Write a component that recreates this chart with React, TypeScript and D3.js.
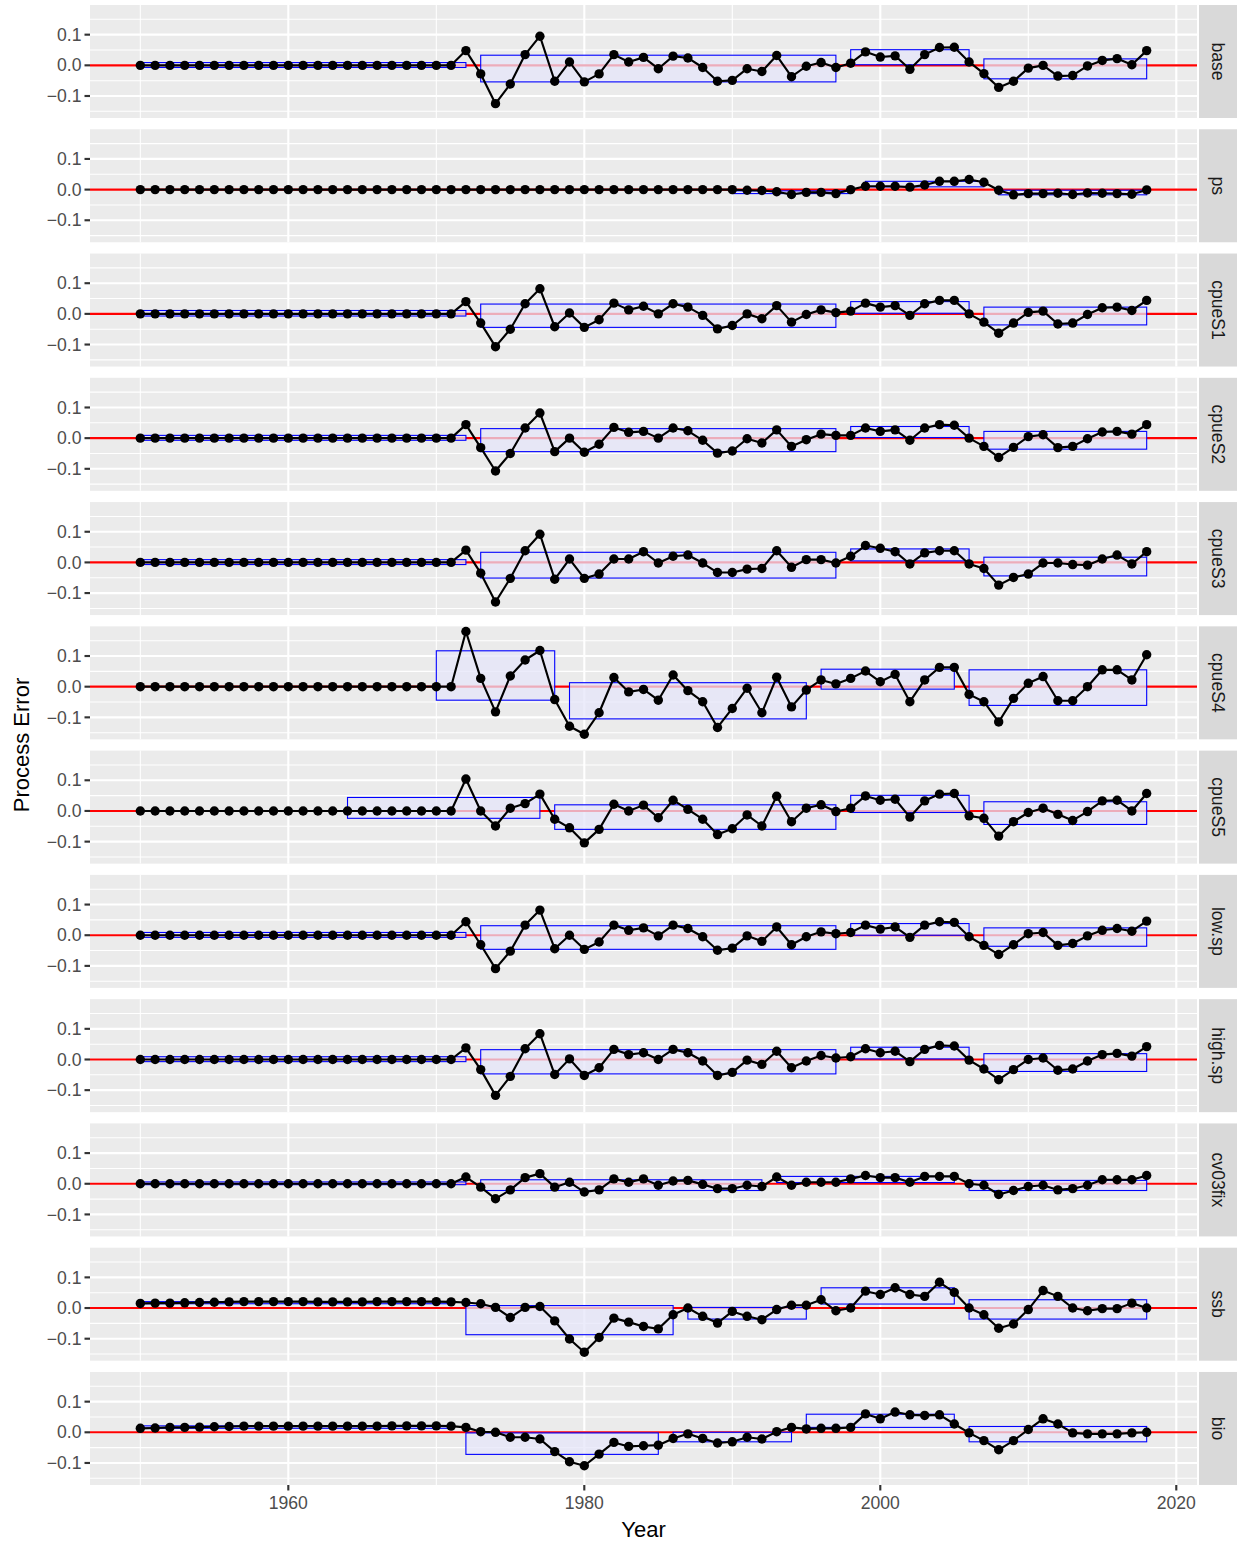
import * as d3 from 'd3';

// x categories
const years = [
  1950, 1951, 1952, 1953, 1954, 1955, 1956, 1957, 1958, 1959,
  1960, 1961, 1962, 1963, 1964, 1965, 1966, 1967, 1968, 1969,
  1970, 1971, 1972, 1973, 1974, 1975, 1976, 1977, 1978, 1979,
  1980, 1981, 1982, 1983, 1984, 1985, 1986, 1987, 1988, 1989,
  1990, 1991, 1992, 1993, 1994, 1995, 1996, 1997, 1998, 1999,
  2000, 2001, 2002, 2003, 2004, 2005, 2006, 2007, 2008, 2009,
  2010, 2011, 2012, 2013, 2014, 2015, 2016, 2017, 2018,
];

const xTicks = [1960, 1980, 2000, 2020];
const xMinor = [1950, 1970, 1990, 2010];
const yTicks = [-0.1, 0, 0.1];
const yMinor = [-0.15, -0.05, 0.05, 0.15];

// process error per run, 1950..2018
const base = [
  0, 0, 0, 0, 0, 0, 0, 0, 0, 0,
  0, 0, 0, 0, 0, 0, 0, 0, 0, 0,
  0, 0, 0.048, -0.028, -0.125, -0.061, 0.035, 0.095, -0.052, 0.011,
  -0.054, -0.028, 0.035, 0.011, 0.026, -0.011, 0.030, 0.024, -0.007, -0.052,
  -0.049, -0.011, -0.020, 0.032, -0.037, -0.003, 0.009, -0.007, 0.007, 0.044,
  0.027, 0.031, -0.013, 0.035, 0.058, 0.059, 0.011, -0.027, -0.072, -0.052,
  -0.009, 0.000, -0.035, -0.033, -0.002, 0.016, 0.022, 0.002, 0.048,
];
const ps = [
  0, 0, 0, 0, 0, 0, 0, 0, 0, 0,
  0, 0, 0, 0, 0, 0, 0, 0, 0, 0,
  0, 0, 0, 0, 0, 0, 0, 0, 0, 0,
  0, 0, 0, 0, 0, 0, 0, 0, 0, 0,
  0, -0.002, -0.003, -0.007, -0.016, -0.009, -0.009, -0.013, 0.000, 0.011,
  0.011, 0.011, 0.008, 0.015, 0.027, 0.027, 0.033, 0.024, -0.002, -0.017,
  -0.013, -0.013, -0.012, -0.016, -0.011, -0.012, -0.013, -0.015, -0.001,
];
const cpueS1 = [
  0, 0, 0, 0, 0, 0, 0, 0, 0, 0,
  0, 0, 0, 0, 0, 0, 0, 0, 0, 0,
  0, 0, 0.040, -0.030, -0.107, -0.050, 0.033, 0.082, -0.042, 0.003,
  -0.044, -0.019, 0.035, 0.013, 0.025, 0.000, 0.033, 0.022, -0.005, -0.049,
  -0.038, 0.000, -0.016, 0.027, -0.027, -0.002, 0.013, 0.004, 0.009, 0.035,
  0.022, 0.027, -0.005, 0.033, 0.044, 0.044, 0.000, -0.027, -0.063, -0.030,
  0.005, 0.009, -0.033, -0.030, -0.002, 0.020, 0.022, 0.011, 0.044,
];
const cpueS2 = [
  0, 0, 0, 0, 0, 0, 0, 0, 0, 0,
  0, 0, 0, 0, 0, 0, 0, 0, 0, 0,
  0, 0, 0.044, -0.031, -0.107, -0.050, 0.033, 0.082, -0.044, 0.000,
  -0.046, -0.020, 0.035, 0.019, 0.022, 0.000, 0.033, 0.024, -0.007, -0.049,
  -0.042, -0.002, -0.016, 0.027, -0.027, -0.005, 0.013, 0.009, 0.009, 0.033,
  0.022, 0.027, -0.007, 0.033, 0.044, 0.042, 0.000, -0.027, -0.063, -0.030,
  0.005, 0.011, -0.031, -0.027, -0.002, 0.020, 0.022, 0.013, 0.044,
];
const cpueS3 = [
  0, 0, 0, 0, 0, 0, 0, 0, 0, 0,
  0, 0, 0, 0, 0, 0, 0, 0, 0, 0,
  0, 0, 0.040, -0.035, -0.129, -0.052, 0.038, 0.092, -0.055, 0.011,
  -0.052, -0.038, 0.011, 0.011, 0.035, -0.002, 0.020, 0.024, -0.002, -0.033,
  -0.033, -0.022, -0.020, 0.038, -0.016, 0.009, 0.009, -0.002, 0.020, 0.055,
  0.046, 0.035, -0.005, 0.031, 0.038, 0.038, -0.005, -0.020, -0.074, -0.049,
  -0.038, -0.002, -0.002, -0.007, -0.009, 0.011, 0.024, -0.005, 0.035,
];
const cpueS4 = [
  0, 0, 0, 0, 0, 0, 0, 0, 0, 0,
  0, 0, 0, 0, 0, 0, 0, 0, 0, 0,
  0, 0, 0.180, 0.027, -0.082, 0.035, 0.087, 0.118, -0.042, -0.129,
  -0.155, -0.085, 0.030, -0.017, -0.009, -0.044, 0.038, -0.013, -0.049, -0.133,
  -0.071, -0.005, -0.085, 0.031, -0.066, -0.011, 0.022, 0.009, 0.027, 0.051,
  0.016, 0.040, -0.049, 0.022, 0.063, 0.063, -0.025, -0.049, -0.115, -0.038,
  0.011, 0.033, -0.046, -0.046, 0.000, 0.055, 0.055, 0.022, 0.104,
];
const cpueS5 = [
  0, 0, 0, 0, 0, 0, 0, 0, 0, 0,
  0, 0, 0, 0, 0, 0, 0, 0, 0, 0,
  0, 0, 0.104, 0.000, -0.049, 0.009, 0.024, 0.055, -0.027, -0.055,
  -0.104, -0.060, 0.022, 0.000, 0.019, -0.022, 0.035, 0.005, -0.027, -0.077,
  -0.058, -0.013, -0.049, 0.048, -0.035, 0.009, 0.020, -0.002, 0.009, 0.049,
  0.035, 0.038, -0.020, 0.033, 0.055, 0.057, -0.016, -0.024, -0.082, -0.035,
  -0.005, 0.009, -0.011, -0.031, -0.002, 0.033, 0.035, 0.000, 0.057,
];
const lowSp = [
  0, 0, 0, 0, 0, 0, 0, 0, 0, 0,
  0, 0, 0, 0, 0, 0, 0, 0, 0, 0,
  0, 0, 0.044, -0.031, -0.109, -0.052, 0.033, 0.082, -0.044, 0.000,
  -0.046, -0.022, 0.033, 0.016, 0.024, -0.002, 0.033, 0.022, -0.005, -0.049,
  -0.042, -0.002, -0.020, 0.027, -0.031, -0.005, 0.011, 0.005, 0.009, 0.033,
  0.020, 0.027, -0.007, 0.033, 0.044, 0.042, -0.005, -0.033, -0.063, -0.031,
  0.005, 0.009, -0.033, -0.027, -0.002, 0.016, 0.022, 0.013, 0.046,
];
const highSp = [
  0, 0, 0, 0, 0, 0, 0, 0, 0, 0,
  0, 0, 0, 0, 0, 0, 0, 0, 0, 0,
  0, 0, 0.038, -0.033, -0.117, -0.055, 0.035, 0.084, -0.049, 0.002,
  -0.052, -0.027, 0.033, 0.016, 0.022, 0.000, 0.033, 0.022, -0.005, -0.052,
  -0.042, -0.002, -0.016, 0.027, -0.027, -0.005, 0.013, 0.005, 0.009, 0.035,
  0.022, 0.027, -0.007, 0.033, 0.046, 0.044, -0.002, -0.031, -0.066, -0.033,
  0.000, 0.005, -0.035, -0.031, -0.005, 0.016, 0.020, 0.011, 0.042,
];
const cv03fix = [
  0, 0, 0, 0, 0, 0, 0, 0, 0, 0,
  0, 0, 0, 0, 0, 0, 0, 0, 0, 0,
  0, 0, 0.022, -0.011, -0.049, -0.020, 0.020, 0.033, -0.011, 0.005,
  -0.027, -0.020, 0.016, 0.005, 0.016, -0.005, 0.009, 0.011, -0.002, -0.016,
  -0.016, -0.005, -0.009, 0.022, -0.005, 0.005, 0.005, 0.005, 0.016, 0.027,
  0.020, 0.020, 0.005, 0.024, 0.024, 0.024, 0.000, -0.005, -0.035, -0.022,
  -0.009, -0.005, -0.020, -0.016, -0.005, 0.013, 0.013, 0.013, 0.027,
];
const ssb = [
  0.015, 0.016, 0.016, 0.017, 0.018, 0.019, 0.020, 0.021, 0.021, 0.021,
  0.021, 0.021, 0.020, 0.020, 0.020, 0.020, 0.021, 0.021, 0.021, 0.021,
  0.021, 0.020, 0.018, 0.014, 0.002, -0.031, 0.002, 0.005, -0.042, -0.101,
  -0.144, -0.096, -0.033, -0.046, -0.060, -0.068, -0.022, 0.000, -0.027, -0.049,
  -0.011, -0.027, -0.038, -0.005, 0.009, 0.009, 0.027, -0.009, 0.000, 0.055,
  0.044, 0.066, 0.044, 0.038, 0.084, 0.051, 0.000, -0.022, -0.066, -0.052,
  -0.005, 0.057, 0.038, 0.000, -0.009, -0.002, -0.002, 0.016, 0.000,
];
const bio = [
  0.013, 0.014, 0.016, 0.016, 0.017, 0.018, 0.019, 0.020, 0.020, 0.020,
  0.020, 0.020, 0.020, 0.020, 0.020, 0.020, 0.020, 0.021, 0.021, 0.021,
  0.021, 0.020, 0.016, 0.002, 0.000, -0.016, -0.016, -0.022, -0.063, -0.096,
  -0.109, -0.071, -0.033, -0.046, -0.044, -0.042, -0.020, -0.005, -0.020, -0.035,
  -0.031, -0.016, -0.022, 0.002, 0.016, 0.011, 0.013, 0.013, 0.016, 0.060,
  0.044, 0.066, 0.057, 0.055, 0.057, 0.027, -0.002, -0.027, -0.057, -0.027,
  0.009, 0.044, 0.027, -0.002, -0.005, -0.005, -0.005, -0.002, 0.000,
];

// regimes: [first year, last year, low, high]
const baseRegimes = [[1950, 1972, -0.007, 0.009], [1973, 1997, -0.054, 0.033], [1998, 2006, 0.002, 0.051], [2007, 2018, -0.044, 0.021]];
const psRegimes = [[1990, 1998, -0.013, -0.004], [1999, 2007, 0.009, 0.027], [2008, 2018, -0.017, -0.002]];
const cpueS1Regimes = [[1950, 1972, -0.007, 0.011], [1973, 1997, -0.044, 0.032], [1998, 2006, 0.002, 0.040], [2007, 2018, -0.036, 0.022]];
const cpueS2Regimes = [[1950, 1972, -0.007, 0.009], [1973, 1997, -0.044, 0.031], [1998, 2006, 0.002, 0.038], [2007, 2018, -0.036, 0.022]];
const cpueS3Regimes = [[1950, 1972, -0.007, 0.009], [1973, 1997, -0.051, 0.033], [1998, 2006, 0.005, 0.044], [2007, 2018, -0.044, 0.017]];
const cpueS4Regimes = [[1970, 1978, -0.044, 0.117], [1979, 1995, -0.105, 0.013], [1996, 2005, -0.008, 0.057], [2006, 2018, -0.061, 0.055]];
const cpueS5Regimes = [[1964, 1977, -0.024, 0.044], [1978, 1997, -0.060, 0.020], [1998, 2006, -0.005, 0.051], [2007, 2018, -0.044, 0.030]];
const lowSpRegimes = [[1950, 1972, -0.007, 0.009], [1973, 1997, -0.046, 0.031], [1998, 2006, 0.000, 0.038], [2007, 2018, -0.036, 0.024]];
const highSpRegimes = [[1950, 1972, -0.007, 0.009], [1973, 1997, -0.047, 0.032], [1998, 2006, 0.002, 0.040], [2007, 2018, -0.039, 0.019]];
const cv03fixRegimes = [[1950, 1972, -0.003, 0.006], [1973, 1992, -0.022, 0.013], [1993, 2005, 0.004, 0.024], [2006, 2018, -0.022, 0.011]];
const ssbRegimes = [[1950, 1971, 0.014, 0.021], [1972, 1986, -0.087, 0.008], [1987, 1995, -0.036, 0.002], [1996, 2005, 0.013, 0.066], [2006, 2018, -0.036, 0.027]];
const bioRegimes = [[1950, 1971, 0.013, 0.021], [1972, 1985, -0.072, -0.002], [1986, 1994, -0.031, 0.000], [1995, 2005, 0.016, 0.059], [2006, 2018, -0.031, 0.019]];

const facetLabels = ['base', 'ps', 'cpueS1', 'cpueS2', 'cpueS3', 'cpueS4', 'cpueS5', 'low.sp', 'high.sp', 'cv03fix', 'ssb', 'bio'];

const facets = [
  { values: base, regimes: baseRegimes },
  { values: ps, regimes: psRegimes },
  { values: cpueS1, regimes: cpueS1Regimes },
  { values: cpueS2, regimes: cpueS2Regimes },
  { values: cpueS3, regimes: cpueS3Regimes },
  { values: cpueS4, regimes: cpueS4Regimes },
  { values: cpueS5, regimes: cpueS5Regimes },
  { values: lowSp, regimes: lowSpRegimes },
  { values: highSp, regimes: highSpRegimes },
  { values: cv03fix, regimes: cv03fixRegimes },
  { values: ssb, regimes: ssbRegimes },
  { values: bio, regimes: bioRegimes },
].map((f, i) => ({ ...f, label: facetLabels[i] }));

const W = 1238;
const H = 1544;
const plotL = 90;
const plotR = 1197;
const top0 = 5;
const panelH = 113;
const step = 124.27;
const stripX = 1199;
const stripW = 38;
const FONT = '"Liberation Sans", Arial, Helvetica, sans-serif';

const fmt = (v: number) => (v < 0 ? '\u2212' : '') + Math.abs(v).toFixed(1);

export default function App() {
  const [xMin, xMax] = d3.extent(years) as [number, number];
  const xPad = (xMax - xMin) * 0.05;
  const x = d3.scaleLinear().domain([xMin - xPad, xMax + xPad]).range([plotL, plotR]);

  const [lo, hi] = d3.extent(facets.flatMap(f => f.values)) as [number, number];
  const yPad = (hi - lo) * 0.05;
  const y = d3.scaleLinear().domain([lo - yPad, hi + yPad]).range([panelH, 0]);

  const line = d3.line<number>().x((_, i) => x(years[i])).y(d => y(d));

  const lastBottom = top0 + (facets.length - 1) * step + panelH;

  return (
    <svg width={W} height={H} style={{ position: 'absolute', left: 0, top: 0, background: '#fff' }} fontFamily={FONT}>
      {facets.map((f, fi) => {
        const top = top0 + fi * step;
        return (
          <g key={f.label} transform={`translate(0,${top})`}>
            <rect x={plotL} y={0} width={plotR - plotL} height={panelH} fill="#EBEBEB" />
            {yMinor.map(v => (
              <line key={'ym' + v} x1={plotL} x2={plotR} y1={y(v)} y2={y(v)} stroke="#fff" strokeWidth={1.07} />
            ))}
            {xMinor.map(v => (
              <line key={'xm' + v} x1={x(v)} x2={x(v)} y1={0} y2={panelH} stroke="#fff" strokeWidth={1.07} />
            ))}
            {yTicks.map(v => (
              <line key={'yM' + v} x1={plotL} x2={plotR} y1={y(v)} y2={y(v)} stroke="#fff" strokeWidth={2.13} />
            ))}
            {xTicks.map(v => (
              <line key={'xM' + v} x1={x(v)} x2={x(v)} y1={0} y2={panelH} stroke="#fff" strokeWidth={2.13} />
            ))}
            <line x1={plotL} x2={plotR} y1={y(0)} y2={y(0)} stroke="red" strokeWidth={2.13} />
            {f.regimes.map(([a, b, rlo, rhi], ri) => (
              <rect
                key={ri}
                x={x(a)}
                y={y(rhi)}
                width={x(b) - x(a)}
                height={Math.max(y(rlo) - y(rhi), 0.5)}
                fill="lavender"
                fillOpacity={0.75}
                stroke="blue"
                strokeWidth={1.1}
              />
            ))}
            <path d={line(f.values) ?? ''} fill="none" stroke="#000" strokeWidth={2.13} strokeLinejoin="round" />
            {f.values.map((v, i) => (
              <circle key={i} cx={x(years[i])} cy={y(v)} r={4.7} fill="#000" />
            ))}
            {/* y axis */}
            {yTicks.map(v => (
              <g key={'yt' + v}>
                <line x1={plotL - 5.5} x2={plotL} y1={y(v)} y2={y(v)} stroke="#333" strokeWidth={2.13} />
                <text x={plotL - 8.5} y={y(v)} dy="0.35em" textAnchor="end" fontSize={17.6} fill="#4D4D4D">
                  {fmt(v)}
                </text>
              </g>
            ))}
            {/* strip */}
            <rect x={stripX} y={0} width={stripW} height={panelH} fill="#D9D9D9" />
            <text
              transform={`translate(${stripX + stripW / 2},${panelH / 2}) rotate(90)`}
              textAnchor="middle"
              dy="0.35em"
              fontSize={17.6}
              fill="#1A1A1A"
            >
              {f.label}
            </text>
          </g>
        );
      })}
      {/* x axis */}
      {xTicks.map(v => (
        <g key={'xt' + v}>
          <line x1={x(v)} x2={x(v)} y1={lastBottom} y2={lastBottom + 5.5} stroke="#333" strokeWidth={2.13} />
          <text x={x(v)} y={lastBottom + 9.5} dy="0.8em" textAnchor="middle" fontSize={17.6} fill="#4D4D4D">
            {v}
          </text>
        </g>
      ))}
      <text x={(plotL + plotR) / 2} y={1537} textAnchor="middle" fontSize={22} fill="#000">
        Year
      </text>
      <text
        transform={`translate(29,${(top0 + lastBottom) / 2}) rotate(-90)`}
        textAnchor="middle"
        fontSize={22}
        fill="#000"
      >
        Process Error
      </text>
    </svg>
  );
}
